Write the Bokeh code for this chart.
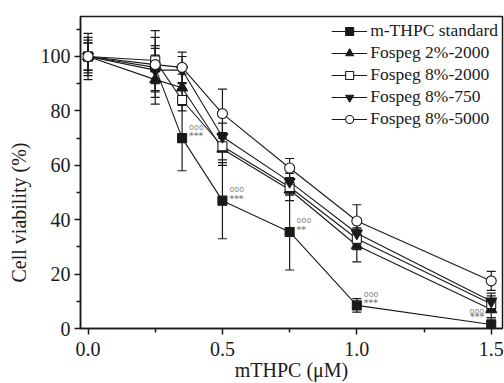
from bokeh.plotting import figure
from bokeh.models import (ColumnDataSource, Whisker, TeeHead, FixedTicker,
                          PrintfTickFormatter, Range1d, Legend, LegendItem)
from bokeh.core.properties import value
from bokeh.embed import file_html
from bokeh.resources import INLINE

# ---- data ----
conc = [0.0, 0.25, 0.35, 0.5, 0.75, 1.0, 1.5]
series_names = ["m-THPC standard", "Fospeg 2%-2000", "Fospeg 8%-2000",
                "Fospeg 8%-750", "Fospeg 8%-5000"]
mthpc_std = [100, 96, 70, 47, 35.5, 8.5, 1.5]
mthpc_std_err = [5, 11, 12, 14, 14, 2.5, 2.5]
fos_2_2000 = [100, 91.5, 88.5, 66, 51, 30.5, 7]
fos_2_2000_err = [6, 9, 5, 6, 4, 6, 3]
fos_8_2000 = [100, 98.5, 84, 67, 52, 33, 9]
fos_8_2000_err = [8.5, 11, 4, 5, 3, 4, 3]
fos_8_750 = [100, 95, 95, 70.5, 54, 35, 10]
fos_8_750_err = [5, 8, 5, 5, 3, 4, 3]
fos_8_5000 = [100, 97, 96, 79, 59, 39.5, 17.5]
fos_8_5000_err = [7, 7, 5.6, 9, 3.5, 6, 3.5]

# significance marks next to the m-THPC standard points
sig_x = [0.35, 0.5, 0.75, 1.0]
sig_top = ["ooo", "ooo", "ooo", "ooo"]
sig_bottom = ["***", "***", "**", "***"]
sig_x_left = [1.5]
sig_top_left = ["ooo"]
sig_bottom_left = ["***"]

yticks = [0, 20, 40, 60, 80, 100]
yminor = [10, 30, 50, 70, 90, 110]
xticks = [0.0, 0.5, 1.0, 1.5]
xminor = [0.25, 0.75, 1.25]
x_title = "mTHPC (μM)"
y_title = "Cell viability (%)"

FONT = "Liberation Serif"
INK = "#1a1a1a"
GREY = "#8a8a8a"

p = figure(width=504, height=383, output_backend="svg", toolbar_location=None,
           x_range=Range1d(-0.028, 1.542), y_range=Range1d(0, 114.7),
           min_border_left=80, min_border_right=2, min_border_top=16,
           min_border_bottom=55)
p.background_fill_color = "white"
p.border_fill_color = "white"
p.outline_line_color = INK
p.outline_line_width = 1.5
p.xgrid.visible = False
p.ygrid.visible = False

for ax, ticks, minor in ((p.xaxis[0], xticks, xminor), (p.yaxis[0], yticks, yminor)):
    ax.ticker = FixedTicker(ticks=ticks, minor_ticks=minor)
    ax.axis_line_color = INK
    ax.axis_line_width = 1.5
    ax.major_tick_line_color = INK
    ax.major_tick_line_width = 1.5
    ax.minor_tick_line_color = INK
    ax.minor_tick_line_width = 1.5
    ax.major_tick_out = 6
    ax.major_tick_in = 0
    ax.minor_tick_out = 4
    ax.minor_tick_in = 0
    ax.major_label_text_font = FONT
    ax.major_label_text_font_size = "20px"
    ax.major_label_text_color = INK
    ax.axis_label_text_font = FONT
    ax.axis_label_text_font_size = "20px"
    ax.axis_label_text_font_style = "normal"
    ax.axis_label_text_color = INK
p.xaxis[0].formatter = PrintfTickFormatter(format="%.1f")
p.xaxis[0].axis_label = x_title
p.xaxis[0].axis_label_standoff = 0
p.xaxis[0].major_label_standoff = 7
p.yaxis[0].major_label_standoff = 4
# trailing no-break spaces shift the rotated title a little below the frame centre
p.yaxis[0].axis_label = y_title + "\u00a0" * 16
p.yaxis[0].axis_label_standoff = 8

series = [
    (mthpc_std, mthpc_std_err, "square", INK, 9),
    (fos_2_2000, fos_2_2000_err, "triangle", INK, 11),
    (fos_8_2000, fos_8_2000_err, "square", "white", 9),
    (fos_8_750, fos_8_750_err, "inverted_triangle", INK, 11),
    (fos_8_5000, fos_8_5000_err, "circle", "white", 10),
]

items = []
sources = []
for (vals, errs, marker, fill, size), name in zip(series, series_names):
    src = ColumnDataSource(dict(
        x=conc, y=vals,
        upper=[v + e for v, e in zip(vals, errs)],
        lower=[max(v - e, 0) for v, e in zip(vals, errs)]))
    sources.append(src)
    w = Whisker(base="x", upper="upper", lower="lower", source=src,
                line_color=INK, line_width=1.2,
                upper_head=TeeHead(size=9, line_color=INK, line_width=1.2),
                lower_head=TeeHead(size=9, line_color=INK, line_width=1.2))
    p.add_layout(w)

for (vals, errs, marker, fill, size), name, src in zip(series, series_names, sources):
    ln = p.line("x", "y", source=src, line_color=INK, line_width=1.1)
    sc = p.scatter("x", "y", source=src, marker=marker, size=size,
                   fill_color=fill, line_color=INK, line_width=1.1)
    items.append(LegendItem(label=name, renderers=[ln, sc]))

# significance annotations
std_lookup = dict(zip(conc, mthpc_std))
sig_src = ColumnDataSource(dict(x=sig_x, y=[std_lookup[x] for x in sig_x],
                                top=sig_top, bottom=sig_bottom))
p.text("x", "y", text="top", source=sig_src, x_offset=7, y_offset=-11,
       text_font=value("DejaVu Sans"), text_font_size="8px", text_color=GREY,
       text_baseline="middle", text_align="left")
p.text("x", "y", text="bottom", source=sig_src, x_offset=7, y_offset=-2,
       text_font=value("DejaVu Sans"), text_font_size="9px", text_color=GREY,
       text_baseline="middle", text_align="left", text_font_style="bold")
sig_src2 = ColumnDataSource(dict(x=sig_x_left, y=[std_lookup[x] for x in sig_x_left],
                                 top=sig_top_left, bottom=sig_bottom_left))
p.text("x", "y", text="top", source=sig_src2, x_offset=-7, y_offset=-13,
       text_font=value("DejaVu Sans"), text_font_size="8px", text_color=GREY,
       text_baseline="middle", text_align="right")
p.text("x", "y", text="bottom", source=sig_src2, x_offset=-7, y_offset=-7,
       text_font=value("DejaVu Sans"), text_font_size="9px", text_color=GREY,
       text_baseline="middle", text_align="right", text_font_style="bold")

legend = Legend(items=items, location="top_right")
legend.background_fill_alpha = 0
legend.border_line_alpha = 0
legend.label_text_font = FONT
legend.label_text_font_size = "17.5px"
legend.label_text_color = INK
legend.glyph_width = 36
legend.glyph_height = 20
legend.label_height = 20
legend.spacing = 1
legend.padding = 4
legend.margin = 0
legend.label_standoff = 3
p.add_layout(legend)

open("out.html", "w").write(file_html(p, INLINE))
